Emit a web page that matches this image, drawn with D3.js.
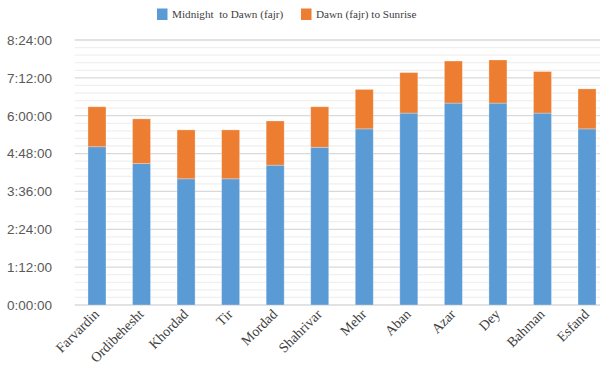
<!DOCTYPE html>
<html>
<head>
<meta charset="utf-8">
<script src="https://cdn.jsdelivr.net/npm/d3@7"></script>
<style>
  html, body { margin: 0; padding: 0; background: #fff; }
  svg { display: block; }
  .serif { font-family: 'Liberation Serif', 'Times New Roman', serif; }
</style>
</head>
<body>
<svg id="chart" width="600" height="373"></svg>
<script>
// Persian months
const months = ["Farvardin", "Ordibehesht", "Khordad", "Tir", "Mordad", "Shahrivar",
                "Mehr", "Aban", "Azar", "Dey", "Bahman", "Esfand"];
// Minutes from midnight to dawn (fajr)
const toDawn = [301, 269, 240, 240, 266, 300, 335, 365, 384, 384, 365, 335];
// Minutes from dawn (fajr) to sunrise
const dawnToSunrise = [76, 85, 93, 93, 84, 77, 75, 77, 80, 82, 79, 76];
// Y tick values in minutes (every 1:12:00)
const yTicks = [0, 72, 144, 216, 288, 360, 432, 504];
const seriesNames = ["Midnight  to Dawn (fajr)", "Dawn (fajr) to Sunrise"];
const seriesColors = ["#5B9BD5", "#ED7D31"];

const svg = d3.select("#chart");
const W = 600;
const plotLeft = 74.7, plotRight = 609.3, plotTop = 40, plotBottom = 305;

const x = d3.scaleBand().domain(months).range([plotLeft, plotRight]).paddingInner(0.596).paddingOuter(0.298);
const y = d3.scaleLinear().domain([0, 504]).range([plotBottom, plotTop]);

const fmt = m => {
  const h = Math.floor(m / 60), mm = Math.round(m % 60);
  return h + ":" + String(mm).padStart(2, "0") + ":00";
};

// Minor gridlines every 14.4 minutes
const minor = d3.range(0, 504.01, 14.4).filter(v => !yTicks.some(t => Math.abs(t - v) < 0.01));
svg.append("g").selectAll("line").data(minor).join("line")
  .attr("x1", plotLeft).attr("x2", W)
  .attr("y1", d => y(d)).attr("y2", d => y(d))
  .attr("stroke", "#f0f0f0").attr("stroke-width", 1.3);

// Major gridlines and axis labels
const yAxis = d3.axisLeft(y).tickValues(yTicks).tickFormat(fmt).tickSize(0).tickPadding(0);
const gy = svg.append("g").attr("transform", `translate(${52},0)`).call(yAxis);
gy.select(".domain").remove();
gy.selectAll("text")
  .attr("font-family", "'Liberation Sans', Arial, sans-serif")
  .attr("font-size", 13.5).attr("fill", "#595959");
svg.append("g").selectAll("line").data(yTicks).join("line")
  .attr("x1", plotLeft).attr("x2", W)
  .attr("y1", d => y(d)).attr("y2", d => y(d))
  .attr("stroke", "#d9d9d9").attr("stroke-width", 1.3);

// Stacked bars
const rows = months.map((m, i) => ({ month: m, a: toDawn[i], b: dawnToSunrise[i] }));
const stack = d3.stack().keys(["a", "b"])(rows);
svg.append("g").selectAll("g").data(stack).join("g")
  .attr("fill", (d, i) => seriesColors[i])
  .selectAll("rect").data(d => d).join("rect")
  .attr("x", d => x(d.data.month))
  .attr("width", x.bandwidth())
  .attr("y", d => y(d[1]))
  .attr("height", d => y(d[0]) - y(d[1]))
  .attr("stroke", "#ffffff").attr("stroke-opacity", 0.35).attr("stroke-width", 0.8);

// Category labels
const xAxis = d3.axisBottom(x).tickSize(0).tickPadding(0);
const gx = svg.append("g").attr("transform", `translate(0,${plotBottom})`).call(xAxis);
gx.attr("font-family", null).attr("font-size", null);
gx.select(".domain").remove();
gx.selectAll("text")
  .attr("class", "serif")
  .style("font-size", "14px").attr("fill", "#404040")
  .attr("text-anchor", "end")
  .attr("dy", 0)
  .attr("transform", "translate(3,10) rotate(-45)");

// Legend
const legend = svg.append("g").attr("class", "serif")
  .style("font-size", "11.2px").attr("fill", "#404040");
const lx = [157, 301];
seriesNames.forEach((name, i) => {
  legend.append("rect").attr("x", lx[i]).attr("y", 8.5).attr("width", 10.5).attr("height", 11.5)
    .attr("fill", seriesColors[i]);
  legend.append("text").attr("x", lx[i] + 15).attr("y", 17.5)
    .style("white-space", "pre").text(name);
});
</script>
</body>
</html>
